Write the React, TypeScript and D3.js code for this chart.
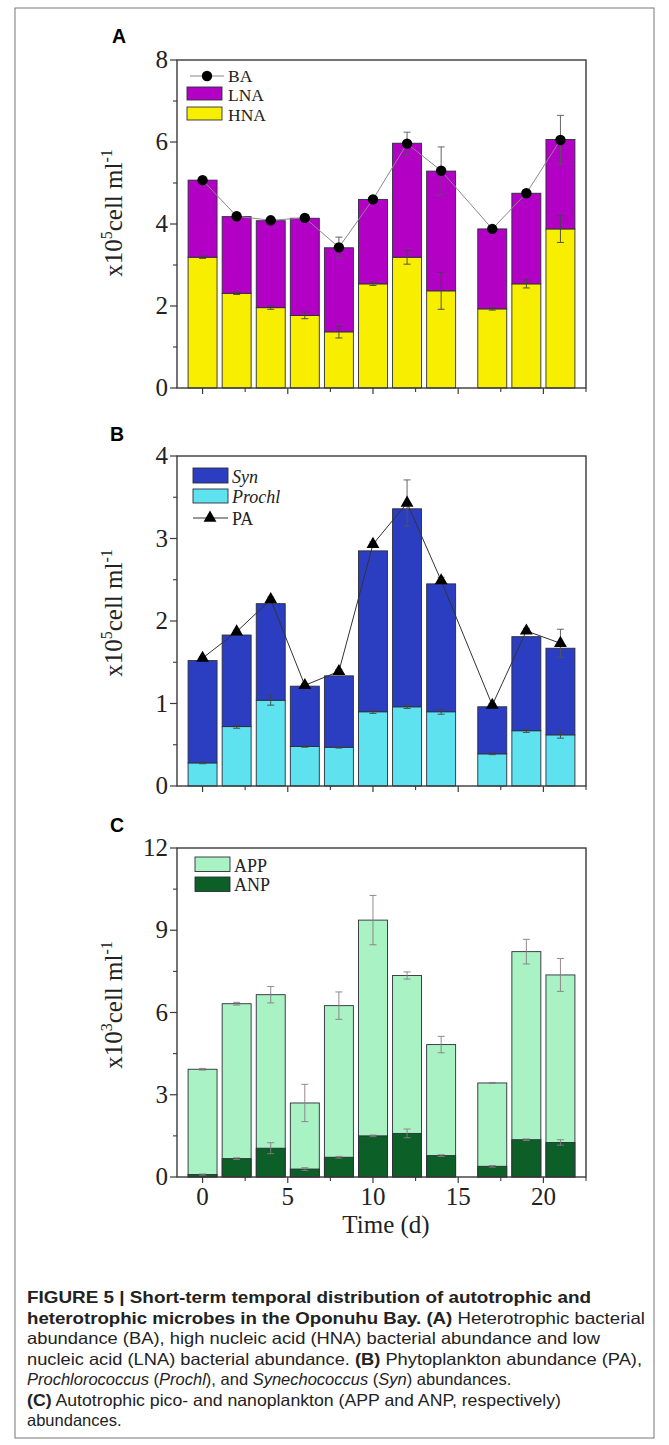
import React from "react";
import * as d3 from "d3";

// sampling days (bar centres)
const days = [0, 2, 4, 6, 8, 10, 12, 14, 17, 19, 21];

// panel A, x10^5 cell ml-1
const hna = [3.19, 2.31, 1.96, 1.77, 1.37, 2.54, 3.19, 2.37, 1.93, 2.54, 3.88];
const lna = [1.88, 1.87, 2.12, 2.37, 2.05, 2.06, 2.78, 2.92, 1.95, 2.21, 2.18];
const ba = [5.07, 4.19, 4.09, 4.15, 3.43, 4.6, 5.96, 5.3, 3.88, 4.75, 6.05];
const baErr = [0.03, 0.03, 0.03, 0.03, 0.25, 0.03, 0.28, 0.58, 0.03, 0.05, 0.6];
const hnaErr = [0.03, 0.03, 0.04, 0.08, 0.15, 0.04, 0.17, 0.45, 0.03, 0.1, 0.33];

// panel B, x10^5 cell ml-1
const prochl = [0.28, 0.72, 1.04, 0.48, 0.47, 0.9, 0.96, 0.9, 0.39, 0.67, 0.62];
const syn = [1.24, 1.11, 1.17, 0.73, 0.865, 1.95, 2.4, 1.55, 0.57, 1.14, 1.05];
const pa = [1.55, 1.87, 2.26, 1.22, 1.39, 2.93, 3.43, 2.49, 0.98, 1.88, 1.73];
const paErr = [0.02, 0.02, 0.03, 0.02, 0.02, 0.03, 0.28, 0.04, 0.02, 0.03, 0.17];
const prochlErr = [0.01, 0.02, 0.06, 0.01, 0.01, 0.02, 0.02, 0.03, 0.01, 0.02, 0.04];

// panel C, x10^3 cell ml-1
const app = [3.93, 6.32, 6.65, 2.7, 6.25, 9.37, 7.35, 4.83, 3.43, 8.22, 7.37];
const anp = [0.09, 0.67, 1.05, 0.29, 0.72, 1.5, 1.59, 0.78, 0.39, 1.36, 1.26];
const appErr = [0.03, 0.05, 0.3, 0.68, 0.5, 0.9, 0.13, 0.3, 0.02, 0.45, 0.6];
const anpErr = [0.02, 0.03, 0.2, 0.05, 0.03, 0.03, 0.16, 0.03, 0.03, 0.03, 0.1];

const xTicks = [0, 5, 10, 15, 20];
const xMinor = [2.5, 7.5, 12.5, 17.5, 22.5];

const SERIF = "'Liberation Serif', 'Times New Roman', serif";
const SANS = "'Liberation Sans', Arial, sans-serif";
const AXIS = "#3a3a3a";
const BAR_W = 1.7;

const x = d3.scaleLinear().domain([-1.5, 22.5]).range([177, 586]);

function ErrBar({ cx, v, e, y, color = "#444" }) {
  const a = y(v - e), b = y(v + e);
  return (
    <g stroke={color} strokeWidth={0.9}>
      <line x1={cx} x2={cx} y1={a} y2={b} />
      <line x1={cx - 3.5} x2={cx + 3.5} y1={b} y2={b} />
      <line x1={cx - 3.5} x2={cx + 3.5} y1={a} y2={a} />
    </g>
  );
}

function Panel({ y0, y1, yMax, step, letter, letterY, exp, labelCy, xLabels, children }) {
  const y = d3.scaleLinear().domain([0, yMax]).range([y0, y1]);
  const major = d3.range(0, yMax + 1e-9, step);
  const minor = d3.range(step / 2, yMax, step);
  const [xl, xr] = x.range();
  return (
    <g>
      <text x={letter === "A" ? 112 : 110} y={letterY} fontFamily={SANS} fontWeight="bold" fontSize={19.5}>
        {letter}
      </text>
      {children(y)}
      <rect x={xl} y={y1} width={xr - xl} height={y0 - y1} fill="none" stroke={AXIS} strokeWidth={1.4} />
      {major.map((t) => (
        <g key={"my" + t}>
          <line x1={xl - 7} x2={xl} y1={y(t)} y2={y(t)} stroke={AXIS} strokeWidth={1.2} />
          <text x={xl - 9} y={y(t) + 8} textAnchor="end" fontFamily={SERIF} fontSize={25} fill="#222">
            {t}
          </text>
        </g>
      ))}
      {minor.map((t) => (
        <line key={"mn" + t} x1={xl - 4} x2={xl} y1={y(t)} y2={y(t)} stroke={AXIS} strokeWidth={1.1} />
      ))}
      {xTicks.map((t) => (
        <g key={"mx" + t}>
          <line x1={x(t)} x2={x(t)} y1={y0} y2={y0 + 6} stroke={AXIS} strokeWidth={1.2} />
          {xLabels && (
            <text x={x(t)} y={y0 + 28} textAnchor="middle" fontFamily={SERIF} fontSize={25} fill="#222">
              {t}
            </text>
          )}
        </g>
      ))}
      {xMinor.map((t) => (
        <line key={"nx" + t} x1={x(t)} x2={x(t)} y1={y0} y2={y0 + 4} stroke={AXIS} strokeWidth={1.1} />
      ))}
      <text transform={`translate(122,${labelCy}) rotate(-90)`} textAnchor="middle" fontFamily={SERIF} fontSize={25} fill="#222">
        x10<tspan dy={-10} fontSize={16}>{exp}</tspan>
        <tspan dy={10}>cell ml</tspan>
        <tspan dy={-10} fontSize={16}>-1</tspan>
      </text>
    </g>
  );
}

function Bar({ d, lo, hi, y, fill }) {
  return (
    <rect
      x={x(d - BAR_W / 2)}
      width={x(d + BAR_W / 2) - x(d - BAR_W / 2)}
      y={y(hi)}
      height={y(lo) - y(hi)}
      fill={fill}
      stroke="#2d2d3a"
      strokeWidth={0.9}
    />
  );
}

const caption = [
  [{ t: "FIGURE 5 | Short-term temporal distribution of autotrophic and", b: true }],
  [{ t: "heterotrophic microbes in the Oponuhu Bay. (A)", b: true }, { t: " Heterotrophic bacterial" }],
  [{ t: "abundance (BA), high nucleic acid (HNA) bacterial abundance and low" }],
  [{ t: "nucleic acid (LNA) bacterial abundance. " }, { t: "(B)", b: true }, { t: " Phytoplankton abundance (PA)," }],
  [
    { t: "Prochlorococcus", i: true }, { t: " (" }, { t: "Prochl", i: true }, { t: "), and " },
    { t: "Synechococcus", i: true }, { t: " (" }, { t: "Syn", i: true }, { t: ") abundances." },
  ],
  [{ t: "(C)", b: true }, { t: " Autotrophic pico- and nanoplankton (APP and ANP, respectively)" }],
  [{ t: "abundances." }],
];
const captionWidths = [564, 618, 573, 615, null, 534, null];

export default function App() {
  const tri = d3.symbol(d3.symbolTriangle, 72)();
  return (
    <svg width={669} height={1445} style={{ position: "absolute", left: 0, top: 0, background: "#fff" }}>
      <rect x={15} y={8} width={639} height={1430} fill="none" stroke="#777" strokeWidth={1} />

      {/* A */}
      <Panel y0={388} y1={60} yMax={8} step={2} letter="A" letterY={43} exp="5" labelCy={213}>
        {(y) => (
          <g>
            {days.map((d, i) => (
              <g key={i}>
                <Bar d={d} lo={0} hi={hna[i]} y={y} fill="#f8ee00" />
                <Bar d={d} lo={hna[i]} hi={hna[i] + lna[i]} y={y} fill="#b200c5" />
                <ErrBar cx={x(d)} v={hna[i]} e={hnaErr[i]} y={y} />
                <ErrBar cx={x(d)} v={ba[i]} e={baErr[i]} y={y} color="#555" />
              </g>
            ))}
            <path
              d={d3.line<number>().x((_, i) => x(days[i])).y((v) => y(v))(ba) || ""}
              fill="none"
              stroke="#8a8a8a"
              strokeWidth={1}
            />
            {days.map((d, i) => (
              <circle key={i} cx={x(d)} cy={y(ba[i])} r={5.2} fill="#000" />
            ))}
            <g fontFamily={SERIF} fontSize={17.5} fill="#222">
              <line x1={190} x2={224} y1={76} y2={76} stroke="#8a8a8a" strokeWidth={1} />
              <circle cx={207} cy={76} r={5.2} fill="#000" />
              <text x={228} y={81.5}>BA</text>
              <rect x={187} y={87} width={35} height={13} fill="#b200c5" stroke="#2d2d3a" strokeWidth={0.9} />
              <text x={228} y={101}>LNA</text>
              <rect x={187} y={107} width={35} height={13} fill="#f8ee00" stroke="#2d2d3a" strokeWidth={0.9} />
              <text x={228} y={121}>HNA</text>
            </g>
          </g>
        )}
      </Panel>

      {/* B */}
      <Panel y0={786} y1={456} yMax={4} step={1} letter="B" letterY={441} exp="5" labelCy={613}>
        {(y) => (
          <g>
            {days.map((d, i) => (
              <g key={i}>
                <Bar d={d} lo={0} hi={prochl[i]} y={y} fill="#5ee2f0" />
                <Bar d={d} lo={prochl[i]} hi={prochl[i] + syn[i]} y={y} fill="#2b3ec2" />
                <ErrBar cx={x(d)} v={prochl[i]} e={prochlErr[i]} y={y} />
                <ErrBar cx={x(d)} v={pa[i]} e={paErr[i]} y={y} color="#555" />
              </g>
            ))}
            <path
              d={d3.line<number>().x((_, i) => x(days[i])).y((v) => y(v))(pa) || ""}
              fill="none"
              stroke="#333"
              strokeWidth={1}
            />
            {days.map((d, i) => (
              <path key={i} d={tri || ""} transform={`translate(${x(d)},${y(pa[i])})`} fill="#000" />
            ))}
            <g fontFamily={SERIF} fontSize={18} fill="#222">
              <rect x={193} y={468} width={35} height={15} fill="#2b3ec2" stroke="#2d2d3a" strokeWidth={0.9} />
              <text x={232} y={482.5} fontStyle="italic">Syn</text>
              <rect x={193} y={489} width={35} height={14} fill="#5ee2f0" stroke="#2d2d3a" strokeWidth={0.9} />
              <text x={232} y={503} fontStyle="italic">Prochl</text>
              <line x1={193} x2={228} y1={518} y2={518} stroke="#333" strokeWidth={1} />
              <path d={tri || ""} transform="translate(210,518)" fill="#000" />
              <text x={232} y={525}>PA</text>
            </g>
          </g>
        )}
      </Panel>

      {/* C */}
      <Panel y0={1177} y1={848} yMax={12} step={3} letter="C" letterY={832} exp="3" labelCy={1005} xLabels>
        {(y) => (
          <g>
            {days.map((d, i) => (
              <g key={i}>
                <Bar d={d} lo={0} hi={app[i]} y={y} fill="#a9f2c3" />
                <Bar d={d} lo={0} hi={anp[i]} y={y} fill="#0c5f27" />
                <ErrBar cx={x(d)} v={app[i]} e={appErr[i]} y={y} color="#8a7a86" />
                <ErrBar cx={x(d)} v={anp[i]} e={anpErr[i]} y={y} color="#8a7a86" />
              </g>
            ))}
            <g fontFamily={SERIF} fontSize={18} fill="#222">
              <rect x={195} y={857} width={35} height={14.5} fill="#a9f2c3" stroke="#2d2d3a" strokeWidth={0.9} />
              <text x={234} y={871.5}>APP</text>
              <rect x={195} y={877} width={35} height={14.5} fill="#0c5f27" stroke="#2d2d3a" strokeWidth={0.9} />
              <text x={234} y={891}>ANP</text>
            </g>
          </g>
        )}
      </Panel>
      <text x={386} y={1233} textAnchor="middle" fontFamily={SERIF} fontSize={25} fill="#222">
        Time (d)
      </text>

      {/* caption */}
      <g fontFamily={SANS} fontSize={16.5} fill="#222" style={{ whiteSpace: "pre" }}>
        {caption.map((line, li) => (
          <text
            key={li}
            x={27}
            y={1303 + li * 20.5}
            textLength={captionWidths[li] || undefined}
            lengthAdjust={captionWidths[li] ? "spacingAndGlyphs" : undefined}
          >
            {line.map((s, si) => (
              <tspan key={si} fontWeight={s.b ? "bold" : "normal"} fontStyle={s.i ? "italic" : "normal"}>
                {s.t}
              </tspan>
            ))}
          </text>
        ))}
      </g>
    </svg>
  );
}
